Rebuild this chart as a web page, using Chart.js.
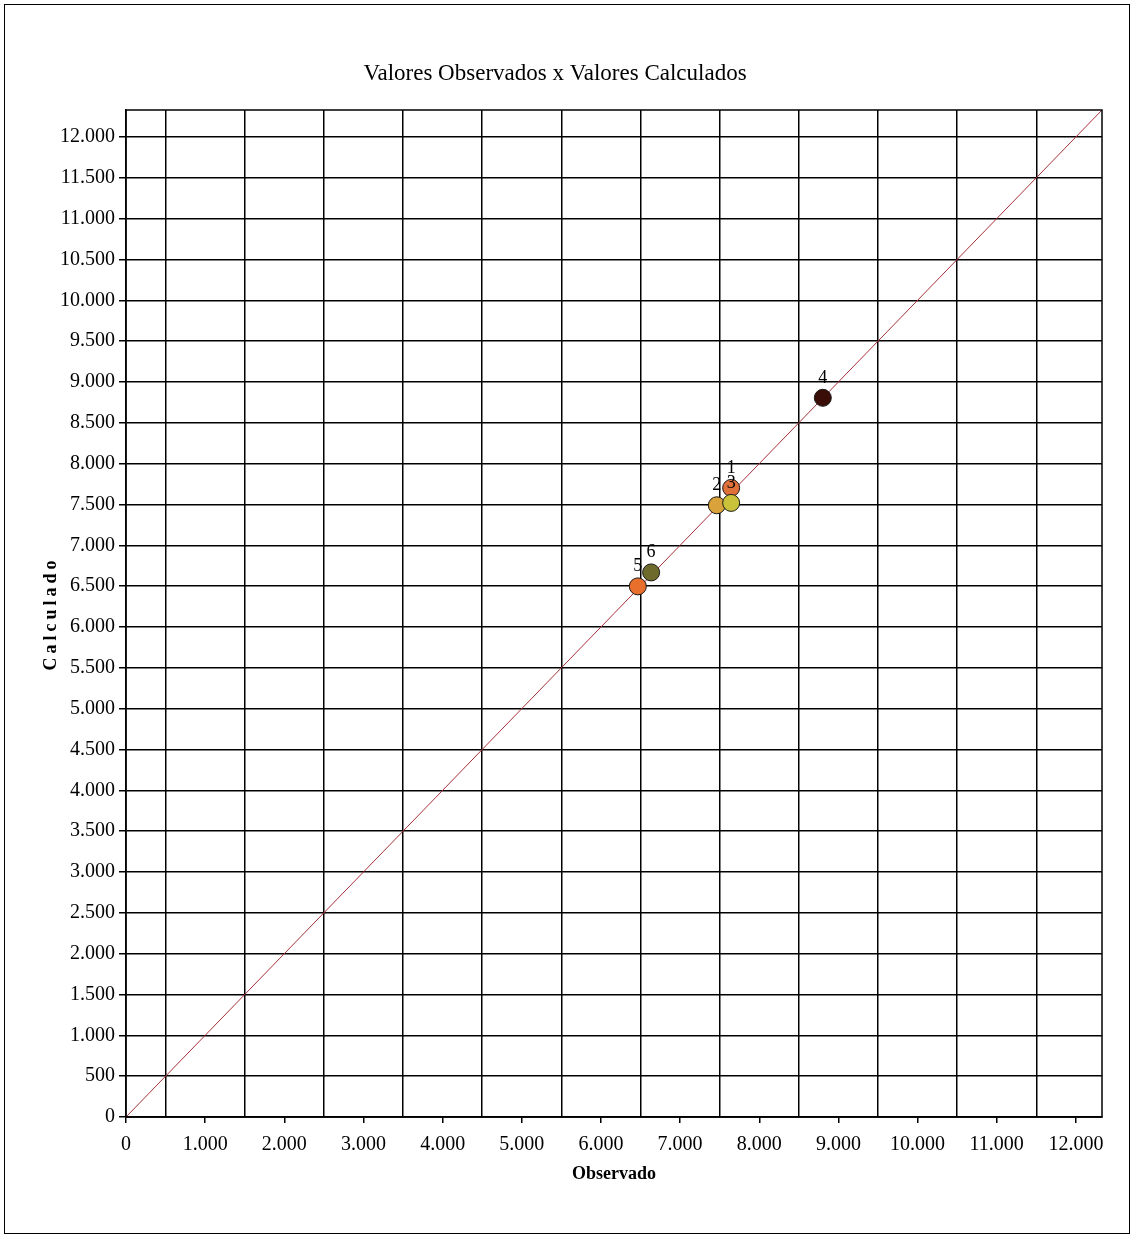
<!DOCTYPE html>
<html>
<head>
<meta charset="utf-8">
<script src="https://cdn.jsdelivr.net/npm/chart.js@4"></script>
<style>
  html, body { margin: 0; padding: 0; background: #fff; }
  #wrap { position: relative; width: 1132px; height: 1237px; }
</style>
</head>
<body>
<div id="wrap"><canvas id="chart"></canvas></div>
<script>
const pointLabels = ['1', '2', '3', '4', '5', '6'];
const observado = [7645, 7464, 7645, 8803, 6466, 6634];
const calculado = [7703, 7490, 7519, 8806, 6497, 6668];
const pointColors = ['#e0703a', '#d9a23a', '#c9c23a', '#3a0d06', '#e8702c', '#6e6a2c'];

// tick values (every 500, labels on x only at whole thousands)
const tickValues = [0, 500, 1000, 1500, 2000, 2500, 3000, 3500, 4000, 4500, 5000, 5500,
    6000, 6500, 7000, 7500, 8000, 8500, 9000, 9500, 10000, 10500, 11000, 11500, 12000];

// axis range and the 1:1 reference line
const axisMax = 12330;
const diagonal = [0, axisMax];

const tickFont = { family: "'Liberation Serif', serif", size: 20 };
const fmt = (v) => String(v).replace(/\B(?=(\d{3})+(?!\d))/g, '.');
const setTicks = (scale) => { scale.ticks = tickValues.map(v => ({ value: v })); };

const framePlugin = {
    id: 'frame',
    beforeDraw: (chart) => {
        const ctx = chart.ctx;
        ctx.save();
        ctx.fillStyle = '#fff';
        ctx.fillRect(0, 0, chart.width, chart.height);
        ctx.strokeStyle = '#000';
        ctx.lineWidth = 1;
        ctx.strokeRect(4.5, 4.5, 1125, 1229);
        ctx.restore();
    },
    afterDraw: (chart) => {
        const ctx = chart.ctx;
        const a = chart.chartArea;
        ctx.save();
        ctx.strokeStyle = '#000';
        ctx.lineWidth = 1.5;
        ctx.strokeRect(a.left, a.top, a.right - a.left, a.bottom - a.top);

        // y axis title, spaced out like the original
        ctx.translate(51, (a.top + a.bottom) / 2);
        ctx.rotate(-Math.PI / 2);
        ctx.font = "bold 18px 'Liberation Serif', serif";
        ctx.letterSpacing = '4px';
        ctx.fillStyle = '#000';
        ctx.textAlign = 'center';
        ctx.textBaseline = 'middle';
        ctx.fillText('Calculado', 0, 0);
        ctx.restore();
    }
};

const pointLabelPlugin = {
    id: 'pointLabels',
    afterDatasetsDraw: (chart) => {
        const ctx = chart.ctx;
        const meta = chart.getDatasetMeta(1);
        ctx.save();
        ctx.font = "18px 'Liberation Serif', serif";
        ctx.fillStyle = '#000';
        ctx.textAlign = 'center';
        ctx.textBaseline = 'alphabetic';
        meta.data.forEach((el, i) => {
            ctx.fillText(pointLabels[i], el.x, el.y - 15);
        });
        ctx.restore();
    }
};

new Chart(document.getElementById('chart'), {
    type: 'scatter',
    plugins: [framePlugin, pointLabelPlugin],
    data: {
        datasets: [
            {
                type: 'line',
                label: 'Diagonal',
                data: diagonal.map(v => ({ x: v, y: v })),
                borderColor: '#a8303a',
                borderWidth: 1,
                pointRadius: 0,
                fill: false,
                order: 2
            },
            {
                label: 'Pontos',
                data: observado.map((x, i) => ({ x, y: calculado[i] })),
                backgroundColor: pointColors,
                borderColor: '#1a1a1a',
                borderWidth: 1,
                pointRadius: 8.5,
                order: 1
            }
        ]
    },
    options: {
        responsive: true,
        maintainAspectRatio: false,
        animation: false,
        layout: { padding: { left: 8, right: 30, top: 0, bottom: 0 } },
        plugins: {
            legend: { display: false },
            tooltip: { enabled: false },
            title: {
                display: true,
                text: 'Valores Observados x Valores Calculados',
                color: '#000',
                font: { family: "'Liberation Serif', serif", size: 23, weight: 'normal' },
                padding: { top: 60, bottom: 22.4 }
            }
        },
        scales: {
            x: {
                type: 'linear',
                min: 0,
                max: axisMax,
                afterFit: (s) => { s.height = 120; },
                afterBuildTicks: setTicks,
                border: { display: true, color: '#000', width: 1.5 },
                grid: {
                    color: (c) => (c.tick && c.tick.value % 1000 !== 0) ? '#000' : 'rgba(0,0,0,0)',
                    tickColor: (c) => (c.tick && c.tick.value % 1000 === 0) ? '#000' : 'rgba(0,0,0,0)',
                    lineWidth: 1.5,
                    tickLength: 6
                },
                ticks: {
                    autoSkip: false,
                    maxRotation: 0,
                    color: '#000',
                    font: tickFont,
                    padding: 10,
                    callback: (v) => v % 1000 === 0 ? fmt(v) : ''
                },
                title: {
                    display: true,
                    text: 'Observado',
                    color: '#000',
                    font: { family: "'Liberation Serif', serif", size: 18, weight: 'bold' },
                    padding: { top: 0, bottom: 52 }
                }
            },
            y: {
                type: 'linear',
                min: 0,
                max: axisMax,
                afterFit: (s) => { s.width = 118; },
                afterBuildTicks: setTicks,
                border: { display: true, color: '#000', width: 1.5 },
                grid: {
                    color: '#000',
                    tickColor: '#000',
                    lineWidth: 1.5,
                    tickLength: 7
                },
                ticks: {
                    autoSkip: false,
                    color: '#000',
                    font: tickFont,
                    padding: 4,
                    callback: (v) => fmt(v)
                }
            }
        }
    }
});
</script>
</body>
</html>
